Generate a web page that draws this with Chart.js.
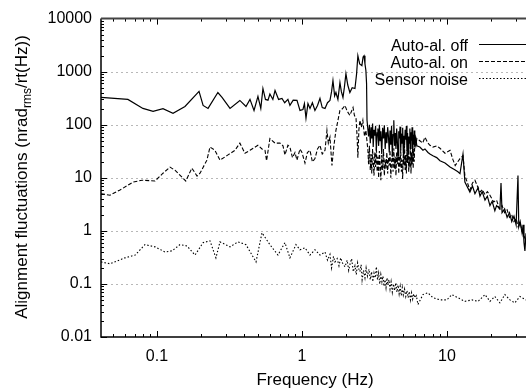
<!DOCTYPE html>
<html><head><meta charset="utf-8">
<script src="https://cdn.jsdelivr.net/npm/chart.js@4.4.0/dist/chart.umd.min.js"></script>
<style>html,body{margin:0;padding:0;background:#fff}#wrap{width:526px;height:389px;position:relative}</style>
</head><body><div id="wrap"><canvas id="c" width="526" height="389"></canvas></div>
<script>
const FONT = '"Liberation Sans", Arial, Helvetica, sans-serif';
const xTickValues = [0.1, 1, 10];
const yTickValues = [0.01, 0.1, 1, 10, 100, 1000, 10000];
const xRange = [0.0411, 35.1];
const yRange = [0.01, 10000];
const gridValues = [0.1, 1, 10, 100, 1000];
const seriesNames = ['Auto-al. off', 'Auto-al. on', 'Sensor noise'];

const offFreq = [0.0411,0.063,0.080,0.094,0.110,0.129,0.156,0.195,0.208,0.225,0.263,0.281,0.319,0.373,0.411,0.438,0.467,0.497,0.520,0.538,0.560,0.583,0.601,0.630,0.652,0.690,0.728,0.760,0.800,0.826,0.870,0.924,0.969,1.016,1.040,1.066,1.10,1.136,1.18,1.229,1.28,1.331,1.38,1.442,1.50,1.56,1.60,1.636,1.68,1.715,1.77,1.828,1.87,1.918,1.96,2.01,2.07,2.14,2.22,2.32,2.38,2.43,2.50,2.59,2.64,2.68,2.72,2.76,2.79,2.81,
 2.85,2.88,2.92,2.96,3.0,3.03,3.07,3.1,3.14,3.18,3.22,3.26,3.3,3.34,3.38,3.42,3.46,3.5,3.55,3.6,3.65,3.7,3.75,3.8,3.85,3.9,3.95,4.0,4.05,4.1,4.15,4.2,4.25,4.3,4.35,4.4,4.45,4.5,4.55,4.6,4.65,4.7,4.75,4.8,4.85,4.9,4.95,5.0,5.05,5.1,5.15,5.2,5.25,5.3,5.35,5.4,5.45,5.5,5.55,5.6,5.65,5.7,5.75,5.8,5.85,5.9,5.95,6.0,6.1,6.2,
 6.5,6.83,7.05,7.4,7.63,8.0,8.5,8.95,9.7,10.5,11.4,11.9,12.3,12.9,13.3,14.4,15.0,15.6,16.4,16.9,17.5,18.3,19.0,19.8,20.5,21.4,22.0,23.2,23.6,24.0,25.0,26.0,27.0,28.0,29.0,30.0,30.9,31.3,32.0,33.0,33.5,34.0,34.5,35.1];
const offVals = [327,300,203,178,200,164,221,424,231,203,405,327,203,287,221,300,186,341,203,482,300,290,380,300,442,300,313,260,300,231,290,287,186,194,250,132,250,203,260,186,230,313,210,203,260,287,420,680,350,405,300,624,420,327,500,920,560,405,500,482,900,2000,1400,1300,1900,2000,1400,1050,600,121,
 121,60,100,45,90,55,105,38,80,62,95,33,70,85,40,100,50,75,28,88,55,98,35,72,45,90,60,30,78,42,95,25,65,121,40,70,35,85,48,26,75,55,92,33,68,45,88,30,62,40,80,52,95,32,70,28,60,45,85,36,72,50,90,30,65,42,78,38,55,40,
 38,33,35,30,28,26,24,21,19,16,14,13,12,28,8.3,5.4,7,5,6.5,4.5,5.5,3.8,4.5,3.0,3.6,2.4,3.0,2.6,8,2.2,2.6,1.8,2.2,1.5,1.9,1.3,11,1.2,1.5,0.9,1.3,0.6,0.42,0.9];

const onFreq = [0.0411,0.0474,0.0556,0.0683,0.0788,0.0969,0.110,0.123,0.133,0.158,0.174,0.189,0.198,0.221,0.232,0.251,0.272,0.309,0.345,0.373,0.404,0.438,0.497,0.530,0.556,0.570,0.601,0.652,0.705,0.740,0.763,0.800,0.826,0.860,0.895,0.924,0.969,1.0,1.049,1.09,1.136,1.18,1.229,1.28,1.331,1.38,1.442,1.487,1.52,1.56,1.61,1.66,1.715,1.77,1.828,1.9,1.98,2.05,2.14,2.25,2.30,2.36,2.40,2.43,2.47,2.51,2.57,2.63,2.70,2.76,
 2.85,2.88,2.92,2.96,3.0,3.03,3.07,3.1,3.14,3.18,3.22,3.26,3.3,3.34,3.38,3.42,3.46,3.5,3.55,3.6,3.65,3.7,3.75,3.8,3.85,3.9,3.95,4.0,4.05,4.1,4.15,4.2,4.25,4.3,4.35,4.4,4.45,4.5,4.55,4.6,4.65,4.7,4.75,4.8,4.85,4.9,4.95,5.0,5.05,5.1,5.15,5.2,5.25,5.3,5.35,5.4,5.45,5.5,5.55,5.6,5.65,5.7,5.75,5.8,5.85,5.9,5.95,6.0,6.1,6.2,
 6.5,6.8,7.05,7.4,7.63,8.0,8.5,8.95,9.7,10.5,11.0,11.4,12.3,12.9,13.3,14.4,15.0,15.6,16.4,16.9,17.5,18.3,19.0,19.8,21.0,22.0,23.0,24.0,25.0,26.0,27.0,28.0,29.0,30.0,31.0,32.0,33.0,34.0,35.1];
const onVals = [5.0,4.7,5.9,8.3,9.0,8.7,12.2,15.9,13.9,8.7,15.2,10.8,12.2,21.5,38,33,21.5,27,33,45,29,33,41,35,33,21,55,45,45,40,27,41,38,24,30,21.5,35,30,18.9,30,33,20,23,35,41,28,33,78,45,58,17,40,78,120,186,200,231,180,150,212,150,132,60,24,80,121,90,121,60,78,
 33,18,40,14,28,12,35,20,11,30,16,38,13,25,10,32,18,9,27,14,35,11,22,15,30,12,24,17,33,10,20,28,13,36,15,25,11,30,18,38,12,26,16,34,13,22,9.5,30,17,40,14,27,12,33,19,42,13,25,16,38,12,30,18,45,15,35,20,48,40,55,
 50,45,58,45,41,38,40,36,29,33,22,17,23,26,11,5.9,8,9,6.5,5.4,6,4.8,5.5,4.7,3.5,3.8,2.6,3.0,2.2,2.5,1.8,2.0,1.5,1.7,1.2,1.4,1.0,0.8,0.65];

const noiseFreq = [0.0411,0.0474,0.0601,0.0707,0.0826,0.0969,0.1135,0.127,0.144,0.161,0.183,0.208,0.232,0.255,0.272,0.319,0.362,0.411,0.482,0.530,0.601,0.683,0.763,0.826,0.909,0.969,1.049,1.136,1.229,1.331,1.442,
 1.5,1.56,1.60,1.65,1.689,1.75,1.8,1.85,1.9,1.98,2.05,2.1,2.14,2.2,2.26,2.32,2.37,2.42,2.47,2.51,2.56,2.6,2.66,2.72,2.77,2.83,2.9,2.96,3.02,3.08,3.14,3.2,3.26,3.32,3.38,3.44,3.5,3.56,3.62,3.68,3.74,3.8,3.86,3.92,3.98,4.05,4.12,4.2,4.28,4.36,4.44,4.52,4.6,4.68,4.76,4.84,4.92,5.0,5.1,5.2,5.3,5.4,5.5,5.6,5.7,5.8,5.9,6.01,6.15,6.31,
 6.83,7.39,8.0,8.95,10.0,10.8,11.9,13.3,14.9,16.4,18.3,19.8,21.4,23.2,25.1,27.2,29.4,31.9,35.1];
const noiseVals = [0.26,0.24,0.31,0.35,0.55,0.50,0.40,0.42,0.55,0.52,0.35,0.60,0.65,0.31,0.62,0.50,0.62,0.55,0.26,0.92,0.55,0.35,0.60,0.31,0.55,0.44,0.48,0.35,0.44,0.35,0.40,
 0.28,0.36,0.20,0.33,0.26,0.30,0.22,0.31,0.25,0.21,0.28,0.18,0.23,0.30,0.17,0.22,0.15,0.25,0.19,0.17,0.23,0.12,0.18,0.13,0.20,0.14,0.19,0.12,0.17,0.11,0.16,0.13,0.21,0.12,0.16,0.10,0.15,0.11,0.14,0.09,0.12,0.085,0.13,0.095,0.12,0.08,0.11,0.07,0.10,0.075,0.105,0.07,0.095,0.065,0.09,0.06,0.085,0.062,0.08,0.058,0.075,0.055,0.072,0.05,0.068,0.052,0.065,0.055,0.06,0.041,
 0.063,0.068,0.055,0.05,0.05,0.063,0.055,0.047,0.05,0.047,0.063,0.047,0.058,0.044,0.063,0.05,0.044,0.058,0.05];

const pair = (fs, vs) => fs.map((f, i) => ({x: f, y: vs[i]}));
const dashStyles = [[], [4, 2], [1.5, 2]];

function fmt(v){ return String(v); }

const decor = {
  id: 'decor',
  beforeDatasetsDraw(chart){
    const {ctx, chartArea: a, scales: {y}} = chart;
    ctx.save();
    ctx.strokeStyle = '#b8b8b8'; ctx.lineWidth = 1; ctx.setLineDash([2, 3]);
    gridValues.forEach(v => {
      const py = Math.round(y.getPixelForValue(v)) + 0.5;
      ctx.beginPath(); ctx.moveTo(a.left, py); ctx.lineTo(a.right, py); ctx.stroke();
    });
    ctx.restore();
  },
  afterDraw(chart){
    const {ctx, chartArea: a, scales: {x, y}} = chart;
    ctx.save();
    ctx.setLineDash([]);
    ctx.strokeStyle = '#000'; ctx.lineWidth = 1;
    for (let d = 0.01; d <= 1000.1; d *= 10) {
      for (let m = 1; m <= 9; m++) {
        const v = d * m;
        if (v < yRange[0] * 0.999 || v > yRange[1] * 1.001) continue;
        const py = Math.round(y.getPixelForValue(v)) + 0.5;
        const len = m === 1 ? 6 : 3;
        ctx.beginPath(); ctx.moveTo(a.left, py); ctx.lineTo(a.left + len, py); ctx.stroke();
      }
    }
    for (let d = 0.01; d <= 10.1; d *= 10) {
      for (let m = 1; m <= 9; m++) {
        const v = d * m;
        if (v < xRange[0] || v > xRange[1]) continue;
        const px = Math.round(x.getPixelForValue(v)) + 0.5;
        const len = m === 1 ? 6 : 3;
        ctx.beginPath(); ctx.moveTo(px, a.bottom); ctx.lineTo(px, a.bottom - len); ctx.stroke();
        ctx.beginPath(); ctx.moveTo(px, a.top); ctx.lineTo(px, a.top + len); ctx.stroke();
      }
    }
    ctx.lineWidth = 1.5; ctx.strokeStyle = '#000';
    ctx.beginPath(); ctx.moveTo(a.left, a.top); ctx.lineTo(a.left, a.bottom); ctx.lineTo(a.right, a.bottom); ctx.stroke();
    ctx.lineWidth = 2; ctx.strokeStyle = '#444';
    ctx.beginPath(); ctx.moveTo(a.left, a.top); ctx.lineTo(a.right, a.top); ctx.stroke();
    // legend
    ctx.fillStyle = '#000';
    ctx.font = '16px ' + FONT;
    ctx.textAlign = 'right'; ctx.textBaseline = 'alphabetic';
    const bases = [51, 68, 85];
    seriesNames.forEach((n, i) => {
      ctx.fillText(n, 468, bases[i]);
      ctx.save();
      ctx.lineWidth = 1; ctx.strokeStyle = '#000';
      ctx.setLineDash(dashStyles[i]);
      ctx.beginPath(); ctx.moveTo(479, bases[i] - 6.5); ctx.lineTo(526, bases[i] - 6.5); ctx.stroke();
      ctx.restore();
    });
    // x title
    ctx.textAlign = 'center';
    ctx.font = '17px ' + FONT;
    ctx.fillText('Frequency (Hz)', 315, 385);
    // y title with subscript
    const t1 = 'Alignment fluctuations (nrad', t2 = 'rms', t3 = '/rt(Hz))';
    ctx.font = '17px ' + FONT; const w1 = ctx.measureText(t1).width, w3 = ctx.measureText(t3).width;
    ctx.font = '12px ' + FONT; const w2 = ctx.measureText(t2).width;
    const total = w1 + w2 + w3;
    ctx.translate(27, 177); ctx.rotate(-Math.PI / 2);
    ctx.textAlign = 'left';
    let sx = -total / 2;
    ctx.font = '17px ' + FONT; ctx.fillText(t1, sx, 0); sx += w1;
    ctx.font = '12px ' + FONT; ctx.fillText(t2, sx, 4); sx += w2;
    ctx.font = '17px ' + FONT; ctx.fillText(t3, sx, 0);
    ctx.restore();
  }
};

const datasets = [offVals, onVals, noiseVals].map((vals, i) => ({
  label: seriesNames[i],
  data: pair([offFreq, onFreq, noiseFreq][i], vals),
  borderColor: '#000',
  borderWidth: i === 0 ? 1.2 : 1.1,
  borderDash: dashStyles[i],
  pointRadius: 0,
  showLine: true,
  fill: false,
  tension: 0
}));

new Chart(document.getElementById('c'), {
  type: 'scatter',
  data: { datasets },
  options: {
    responsive: false,
    animation: false,
    layout: { padding: { top: 17, right: 0, left: 0, bottom: 0 } },
    plugins: { legend: { display: false }, tooltip: { enabled: false } },
    scales: {
      x: {
        type: 'logarithmic', min: xRange[0], max: xRange[1], position: 'bottom',
        grid: { display: false, drawTicks: false }, border: { display: false },
        afterBuildTicks: s => { s.ticks = xTickValues.map(v => ({ value: v })); },
        afterFit: s => { s.height = 52; },
        ticks: { autoSkip: false, maxRotation: 0, padding: 10, color: '#000', font: { family: FONT, size: 16 }, callback: v => fmt(v) }
      },
      y: {
        type: 'logarithmic', min: yRange[0], max: yRange[1], position: 'left',
        grid: { display: false, drawTicks: false }, border: { display: false },
        afterBuildTicks: s => { s.ticks = yTickValues.map(v => ({ value: v })); },
        afterFit: s => { s.width = 101; },
        ticks: { autoSkip: false, padding: 9, color: '#000', font: { family: FONT, size: 16 }, callback: v => fmt(v) }
      }
    }
  },
  plugins: [decor]
});
</script></body></html>
